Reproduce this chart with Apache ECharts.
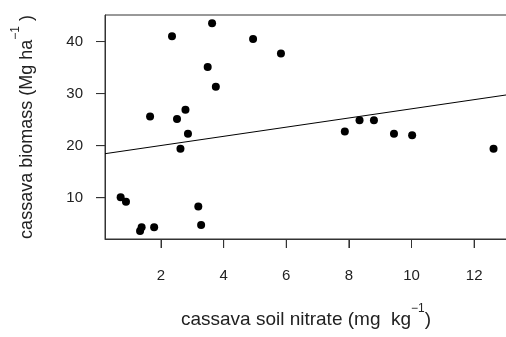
<!DOCTYPE html>
<html>
<head>
<meta charset="utf-8">
<script src="https://cdn.jsdelivr.net/npm/echarts@6/dist/echarts.min.js"></script>
<style>
  html, body { margin: 0; padding: 0; background: #fff; }
  #main { width: 506px; height: 337px; }
</style>
</head>
<body>
<div id="main"></div>
<script>
// soil nitrate (mg kg-1) vs cassava biomass (Mg ha-1)
const nitrate = [2.35, 3.63, 4.94, 5.83, 3.49, 3.75, 1.65, 2.51, 2.78, 8.34, 8.80,
  2.86, 2.62, 7.87, 9.44, 10.02, 12.62, 0.71, 0.88, 3.19, 3.28, 1.38, 1.33, 1.78];
const biomass = [41.0, 43.5, 40.5, 37.7, 35.1, 31.3, 25.6, 25.1, 26.9, 24.9, 24.9,
  22.3, 19.4, 22.7, 22.3, 22.0, 19.4, 10.1, 9.2, 8.3, 4.75, 4.3, 3.6, 4.3];

// fitted line end points
const fitX = [0.21, 13.05];
const fitY = [18.45, 29.76];

const xTicks = [2, 4, 6, 8, 10, 12];
const yTicks = [10, 20, 30, 40];

const X_MIN = 0.21, X_MAX = 13.05, Y_MIN = 2.06, Y_MAX = 45.1;

const points = nitrate.map((x, i) => [x, biomass[i]]);
const fitLine = fitX.map((x, i) => [x, fitY[i]]);

const txt = '#222';
const axisCol = '#333';
const font = 'Liberation Sans, Arial, sans-serif';
const mkRich = (size) => ({
  m: { fontSize: size, fontFamily: font, color: txt, lineHeight: 26, verticalAlign: 'bottom' },
  s: { fontSize: 12, fontFamily: font, color: txt, lineHeight: 26, verticalAlign: 'top' }
});

const chart = echarts.init(document.getElementById('main'), null, { renderer: 'canvas' });
chart.setOption({
  animation: false,
  grid: {
    left: 105, right: -1, top: 15, bottom: 98,
    outerBoundsMode: 'none',
    show: true, borderColor: axisCol, borderWidth: 1, backgroundColor: 'transparent'
  },
  xAxis: {
    type: 'value', min: X_MIN, max: X_MAX,
    name: '{m|cassava soil nitrate (mg  kg}{s|−1}{m|)}',
    nameLocation: 'middle', nameGap: 64,
    nameTextStyle: { rich: mkRich(19) },
    axisLine: { show: true, lineStyle: { color: axisCol, width: 1 } },
    axisTick: { show: true, length: 9, customValues: xTicks, lineStyle: { color: axisCol } },
    axisLabel: { customValues: xTicks, margin: 29, fontSize: 15, fontFamily: font, color: txt },
    splitLine: { show: false }
  },
  yAxis: {
    type: 'value', min: Y_MIN, max: Y_MAX,
    name: '{m|cassava biomass (Mg ha}{s|−1}{m| )}',
    nameLocation: 'middle', nameGap: 69, nameRotate: 90,
    nameTextStyle: { rich: mkRich(18) },
    axisLine: { show: true, lineStyle: { color: axisCol, width: 1 } },
    axisTick: { show: true, length: 9, customValues: yTicks, lineStyle: { color: axisCol } },
    axisLabel: { customValues: yTicks, margin: 22, fontSize: 15, fontFamily: font, color: txt },
    splitLine: { show: false }
  },
  series: [
    {
      type: 'scatter', data: points, symbol: 'circle', symbolSize: 8,
      itemStyle: { color: '#000', opacity: 1 }, silent: true
    },
    {
      type: 'line', data: fitLine, showSymbol: false, silent: true,
      lineStyle: { color: '#000', width: 1 }
    }
  ]
});

// backup tick marks, placed through the chart's own scales
const ticks = [];
xTicks.forEach(v => {
  const p = chart.convertToPixel({ gridIndex: 0 }, [v, Y_MIN]);
  ticks.push({ type: 'line',
    shape: { x1: p[0], y1: p[1], x2: p[0], y2: p[1] + 9 },
    style: { stroke: axisCol, lineWidth: 1 } });
});
yTicks.forEach(v => {
  const p = chart.convertToPixel({ gridIndex: 0 }, [X_MIN, v]);
  ticks.push({ type: 'line',
    shape: { x1: p[0], y1: p[1], x2: p[0] - 9, y2: p[1] },
    style: { stroke: axisCol, lineWidth: 1 } });
});
chart.setOption({ graphic: ticks });
</script>
</body>
</html>
